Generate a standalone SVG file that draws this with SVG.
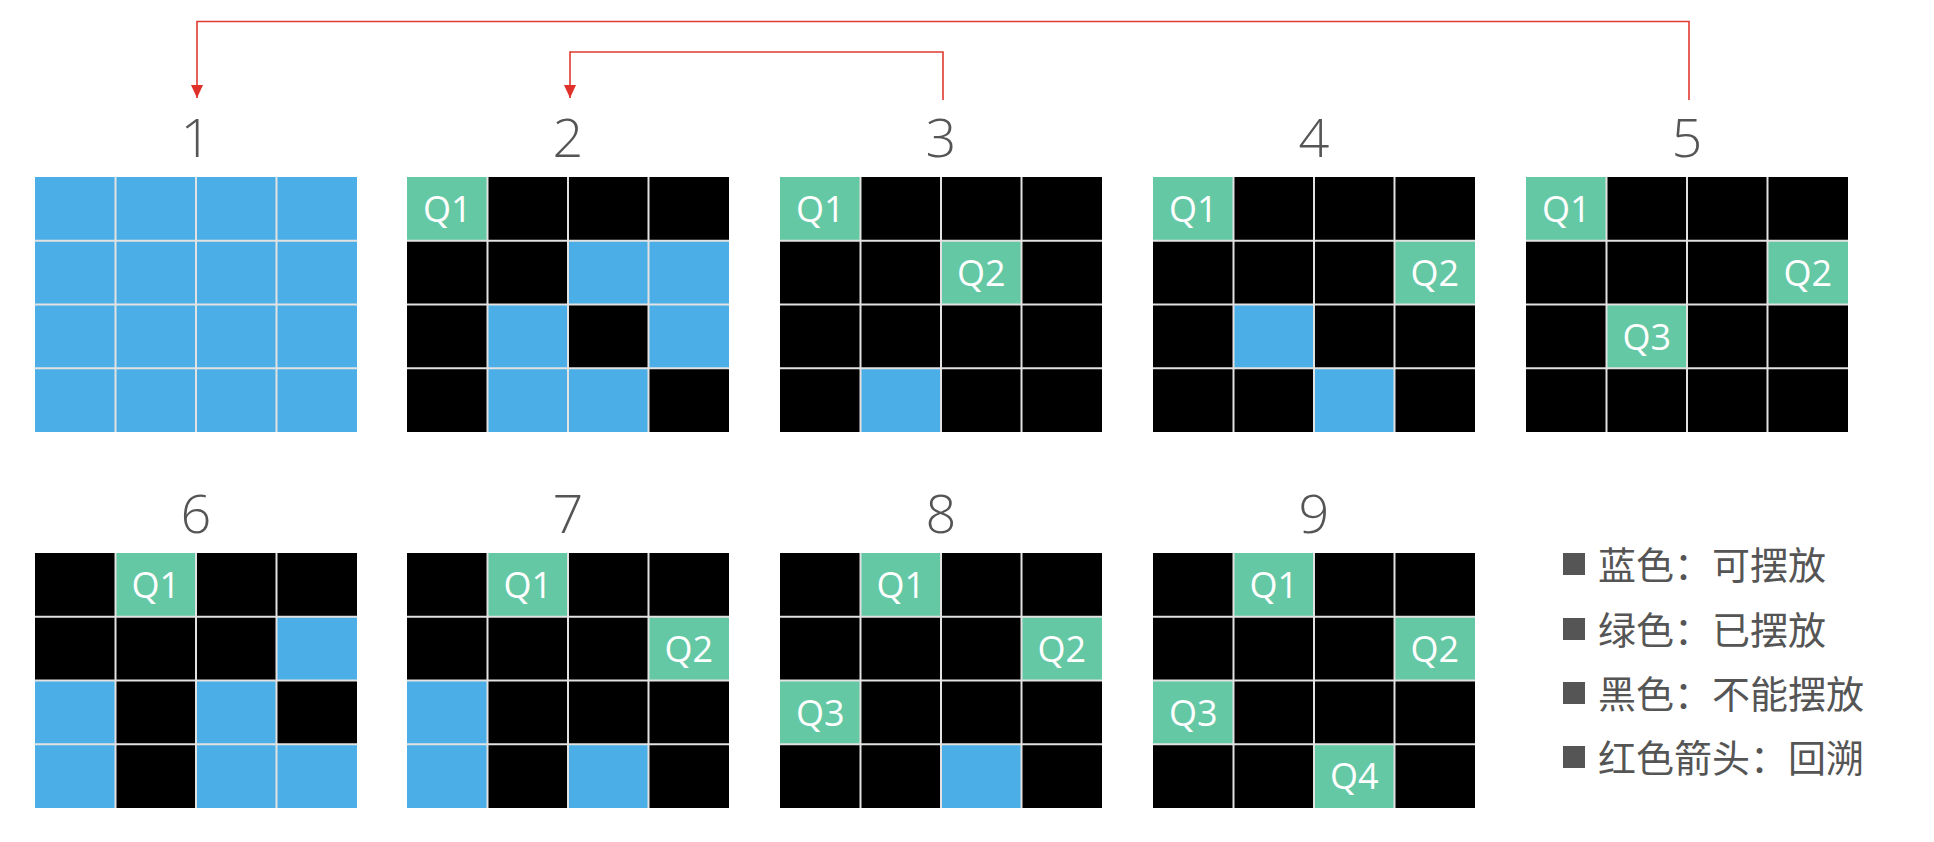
<svg xmlns="http://www.w3.org/2000/svg" xmlns:xlink="http://www.w3.org/1999/xlink" width="1934" height="842" viewBox="0 0 1934 842">
<style>
.b{fill:#4caee6}
.k{fill:#000}
.g{fill:#64c8a5}
.q{font-family:"Open Sans","Noto Sans",sans-serif;font-size:36px;fill:#fff;text-anchor:middle}
.n{font-family:"Open Sans","Noto Sans",sans-serif;font-weight:300;font-size:54px;fill:#555;text-anchor:middle}
.lg{font-family:"Noto Sans CJK SC",sans-serif;font-size:38px;fill:#555}
.sq{fill:#555}
.ln{fill:none;stroke:#e03a30;stroke-width:1.6}
</style>
<defs>
<path id="gl" d="M80.5 0V255M161 0V255M241.5 0V255M0 63.75H322M0 127.5H322M0 191.25H322" stroke="#e2e2e2" stroke-width="2" fill="none"/>
<marker id="ah" viewBox="0 0 13 12" refX="13" refY="6" markerWidth="13" markerHeight="12" markerUnits="userSpaceOnUse" orient="auto">
<path d="M0 0L13 6L0 12Z" fill="#e0302a"/>
</marker>
</defs>
<rect width="1934" height="842" fill="#fff"/>

<g id="connectors">
<path class="ln" d="M1689 100V21.5H197V98" marker-end="url(#ah)"/>
<path class="ln" d="M943 100V52H570V98" marker-end="url(#ah)"/>
</g>

<g id="grid1" transform="translate(35,177)">
<rect class="b" x="0" y="0" width="322" height="255"/>
<use xlink:href="#gl"/>
</g>
<text class="n" x="196" y="157">1</text>

<g id="grid2" transform="translate(407,177)">
<rect class="k" x="0" y="0" width="322" height="255"/>
<rect class="g" x="0" y="0" width="80.5" height="63.75"/>
<rect class="b" x="161" y="63.75" width="161" height="63.75"/>
<rect class="b" x="80.5" y="127.5" width="80.5" height="127.5"/>
<rect class="b" x="241.5" y="127.5" width="80.5" height="63.75"/>
<rect class="b" x="161" y="191.25" width="80.5" height="63.75"/>
<use xlink:href="#gl"/>
<text class="q" x="40.25" y="45">Q1</text>
</g>
<text class="n" x="568" y="157">2</text>

<g id="grid3" transform="translate(780,177)">
<rect class="k" x="0" y="0" width="322" height="255"/>
<rect class="g" x="0" y="0" width="80.5" height="63.75"/>
<rect class="g" x="161" y="63.75" width="80.5" height="63.75"/>
<rect class="b" x="80.5" y="191.25" width="80.5" height="63.75"/>
<use xlink:href="#gl"/>
<text class="q" x="40.25" y="45">Q1</text>
<text class="q" x="201.25" y="108.75">Q2</text>
</g>
<text class="n" x="941" y="157">3</text>

<g id="grid4" transform="translate(1153,177)">
<rect class="k" x="0" y="0" width="322" height="255"/>
<rect class="g" x="0" y="0" width="80.5" height="63.75"/>
<rect class="g" x="241.5" y="63.75" width="80.5" height="63.75"/>
<rect class="b" x="80.5" y="127.5" width="80.5" height="63.75"/>
<rect class="b" x="161" y="191.25" width="80.5" height="63.75"/>
<use xlink:href="#gl"/>
<text class="q" x="40.25" y="45">Q1</text>
<text class="q" x="281.75" y="108.75">Q2</text>
</g>
<text class="n" x="1314" y="157">4</text>

<g id="grid5" transform="translate(1526,177)">
<rect class="k" x="0" y="0" width="322" height="255"/>
<rect class="g" x="0" y="0" width="80.5" height="63.75"/>
<rect class="g" x="241.5" y="63.75" width="80.5" height="63.75"/>
<rect class="g" x="80.5" y="127.5" width="80.5" height="63.75"/>
<use xlink:href="#gl"/>
<text class="q" x="40.25" y="45">Q1</text>
<text class="q" x="281.75" y="108.75">Q2</text>
<text class="q" x="120.75" y="172.5">Q3</text>
</g>
<text class="n" x="1687" y="157">5</text>

<g id="grid6" transform="translate(35,553)">
<rect class="k" x="0" y="0" width="322" height="255"/>
<rect class="g" x="80.5" y="0" width="80.5" height="63.75"/>
<rect class="b" x="241.5" y="63.75" width="80.5" height="63.75"/>
<rect class="b" x="0" y="127.5" width="80.5" height="127.5"/>
<rect class="b" x="161" y="127.5" width="80.5" height="127.5"/>
<rect class="b" x="241.5" y="191.25" width="80.5" height="63.75"/>
<use xlink:href="#gl"/>
<text class="q" x="120.75" y="45">Q1</text>
</g>
<text class="n" x="196" y="533">6</text>

<g id="grid7" transform="translate(407,553)">
<rect class="k" x="0" y="0" width="322" height="255"/>
<rect class="g" x="80.5" y="0" width="80.5" height="63.75"/>
<rect class="g" x="241.5" y="63.75" width="80.5" height="63.75"/>
<rect class="b" x="0" y="127.5" width="80.5" height="127.5"/>
<rect class="b" x="161" y="191.25" width="80.5" height="63.75"/>
<use xlink:href="#gl"/>
<text class="q" x="120.75" y="45">Q1</text>
<text class="q" x="281.75" y="108.75">Q2</text>
</g>
<text class="n" x="568" y="533">7</text>

<g id="grid8" transform="translate(780,553)">
<rect class="k" x="0" y="0" width="322" height="255"/>
<rect class="g" x="80.5" y="0" width="80.5" height="63.75"/>
<rect class="g" x="241.5" y="63.75" width="80.5" height="63.75"/>
<rect class="g" x="0" y="127.5" width="80.5" height="63.75"/>
<rect class="b" x="161" y="191.25" width="80.5" height="63.75"/>
<use xlink:href="#gl"/>
<text class="q" x="120.75" y="45">Q1</text>
<text class="q" x="281.75" y="108.75">Q2</text>
<text class="q" x="40.25" y="172.5">Q3</text>
</g>
<text class="n" x="941" y="533">8</text>

<g id="grid9" transform="translate(1153,553)">
<rect class="k" x="0" y="0" width="322" height="255"/>
<rect class="g" x="80.5" y="0" width="80.5" height="63.75"/>
<rect class="g" x="241.5" y="63.75" width="80.5" height="63.75"/>
<rect class="g" x="0" y="127.5" width="80.5" height="63.75"/>
<rect class="g" x="161" y="191.25" width="80.5" height="63.75"/>
<use xlink:href="#gl"/>
<text class="q" x="120.75" y="45">Q1</text>
<text class="q" x="281.75" y="108.75">Q2</text>
<text class="q" x="40.25" y="172.5">Q3</text>
<text class="q" x="201.25" y="236.25">Q4</text>
</g>
<text class="n" x="1314" y="533">9</text>

<g id="legend">
<rect class="sq" x="1563" y="553" width="22" height="22"/>
<text class="lg" x="1598" y="579">蓝色：可摆放</text>
<rect class="sq" x="1563" y="618" width="22" height="22"/>
<text class="lg" x="1598" y="644">绿色：已摆放</text>
<rect class="sq" x="1563" y="682" width="22" height="22"/>
<text class="lg" x="1598" y="708">黑色：不能摆放</text>
<rect class="sq" x="1563" y="746" width="22" height="22"/>
<text class="lg" x="1598" y="772">红色箭头：回溯</text>
</g>
</svg>
